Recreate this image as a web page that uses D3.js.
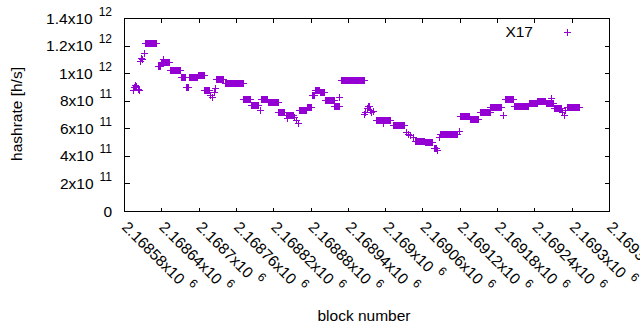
<!DOCTYPE html>
<html>
<head>
<meta charset="utf-8">
<script src="https://cdn.jsdelivr.net/npm/d3@7"></script>
<style>
  body { margin: 0; background: #fff; }
  text { font-family: "Liberation Sans", Arial, sans-serif; fill: #000; }
</style>
</head>
<body>
<script>
// runs of blocks sharing one hashrate value (x 1e11 h/s)
var runStart = [2168594, 2168596, 2168598, 2168600, 2168602, 2168604,
  2168605, 2168607, 2168609, 2168612, 2168614, 2168634, 2168640, 2168643,
  2168654, 2168671, 2168679, 2168685, 2168699, 2168709, 2168718, 2168721,
  2168724, 2168727, 2168728, 2168742, 2168772, 2168784, 2168798, 2168800,
  2168812, 2168828, 2168840, 2168842, 2168854, 2168857, 2168860, 2168862,
  2168874, 2168882, 2168887, 2168895, 2168904, 2168918, 2168925, 2168929,
  2168966, 2168968, 2168970, 2168972, 2168974, 2168976, 2168978, 2168980,
  2168985, 2168997, 2169012, 2169033, 2169036, 2169040, 2169044, 2169048,
  2169064, 2169078, 2169084, 2169086, 2169088, 2169118, 2169120, 2169136,
  2169152, 2169169, 2169190, 2169192, 2169207, 2169232, 2169245, 2169258,
  2169266, 2169272, 2169284, 2169287, 2169290, 2169292];
var runEnd = [2168594, 2168596, 2168598, 2168600, 2168602, 2168604,
  2168605, 2168607, 2168609, 2168612, 2168632, 2168638, 2168652, 2168643,
  2168670, 2168678, 2168683, 2168698, 2168708, 2168717, 2168718, 2168721,
  2168724, 2168727, 2168740, 2168771, 2168782, 2168796, 2168798, 2168810,
  2168827, 2168838, 2168852, 2168842, 2168854, 2168857, 2168860, 2168873,
  2168881, 2168886, 2168894, 2168902, 2168917, 2168926, 2168925, 2168966,
  2168966, 2168968, 2168970, 2168972, 2168974, 2168976, 2168978, 2168980,
  2169008, 2168997, 2169030, 2169033, 2169036, 2169040, 2169044, 2169062,
  2169076, 2169082, 2169084, 2169086, 2169116, 2169118, 2169135, 2169150,
  2169168, 2169186, 2169190, 2169206, 2169230, 2169244, 2169257, 2169270,
  2169266, 2169282, 2169284, 2169287, 2169290, 2169312];
var runValue = [8.8, 9.0, 9.15, 9.1, 8.85, 8.8,
  10.9, 11.1, 11.0, 11.45, 12.2, 10.5, 10.8, 11.0,
  10.25, 9.72, 9.0, 9.75, 9.9, 8.8, 8.45, 8.3,
  8.6, 8.9, 9.6, 9.3, 8.1, 7.7, 7.3, 8.15,
  7.93, 7.2, 7.0, 6.75, 6.8, 6.6, 6.4, 7.3,
  7.55, 8.4, 8.75, 8.6, 8.07, 7.65, 8.3, 9.5,
  7.05, 7.2, 7.5, 7.65, 7.6, 7.3, 7.2, 7.25,
  6.6, 6.4, 6.25, 5.75, 5.6, 5.5, 5.35, 5.1,
  5.0, 4.6, 4.4, 5.35, 5.56, 5.8, 6.9, 6.7,
  7.15, 7.55, 7.0, 8.15, 7.65, 7.85, 7.95, 7.8,
  8.2, 7.5, 7.2, 7.0, 7.3, 7.55];

var yTicks = [0, 2e11, 4e11, 6e11, 8e11, 1e12, 1.2e12, 1.4e12];
var yTickMant = ["0", "2", "4", "6", "8", "1", "1.2", "1.4"];
var yTickExp = ["", "11", "11", "11", "11", "12", "12", "12"];
var xTicks = [2168580, 2168640, 2168700, 2168760, 2168820, 2168880, 2168940,
  2169000, 2169060, 2169120, 2169180, 2169240, 2169300, 2169360];
var xTickMant = ["2.16858", "2.16864", "2.1687", "2.16876", "2.16882", "2.16888",
  "2.16894", "2.169", "2.16906", "2.16912", "2.16918", "2.16924", "2.1693", "2.16936"];
var seriesName = "X17";

var color = "#9400d3";
var plotL = 124, plotR = 609, plotT = 18, plotB = 211;

var svg = d3.select("body").append("svg")
  .attr("width", 640)
  .attr("height", 330);

var x = d3.scaleLinear().domain([2168580, 2169360]).range([plotL, plotR]);
var y = d3.scaleLinear().domain([0, 1.4e12]).range([plotB, plotT]);

// flatten runs into one point per block
var points = [];
runStart.forEach(function(s, i) {
  for (var b = s; b <= runEnd[i]; b++) points.push({ block: b, value: runValue[i] * 1e11 });
});

function plus(cx, cy) {
  var px = Math.round(cx), py = Math.round(cy);
  return "M" + (px - 3) + "," + (py + 0.5) + "H" + (px + 4) +
    "M" + (px + 0.5) + "," + (py - 3) + "V" + (py + 4);
}

// ticks (inward, mirrored) via d3 axes
function axisLines(gen, tx, ty) {
  var g = svg.append("g").attr("transform", "translate(" + tx + "," + ty + ")").call(gen);
  g.select(".domain").remove();
  g.selectAll("text").remove();
  g.selectAll("line").attr("stroke", "#000").attr("shape-rendering", "crispEdges");
  return g;
}
axisLines(d3.axisLeft(y).tickValues(yTicks).tickSize(-5), plotL + 0.5, 0);
axisLines(d3.axisRight(y).tickValues(yTicks).tickSize(-5), plotR + 0.5, 0);
axisLines(d3.axisBottom(x).tickValues(xTicks).tickSize(-4), 0, plotB + 0.5);
axisLines(d3.axisTop(x).tickValues(xTicks).tickSize(-4), 0, plotT + 0.5);

svg.append("rect")
  .attr("x", plotL + 0.5).attr("y", plotT + 0.5)
  .attr("width", plotR - plotL).attr("height", plotB - plotT)
  .attr("fill", "none").attr("stroke", "#000")
  .attr("shape-rendering", "crispEdges");

// y tick labels with superscript exponents
var yl = svg.append("g").selectAll("text")
  .data(yTicks)
  .enter().append("text")
  .attr("x", 112)
  .attr("y", function(d) { return y(d) + 5.5; })
  .attr("text-anchor", "end")
  .style("font-size", "15.5px");
yl.append("tspan").text(function(d, i) { return yTickMant[i] + (yTickExp[i] ? "x10" : ""); });
yl.append("tspan")
  .attr("dx", 6).attr("dy", -8)
  .style("font-size", "12px")
  .text(function(d, i) { return yTickExp[i]; });

// x tick labels rotated -45 (clockwise)
var xl = svg.append("g").selectAll("text")
  .data(xTicks)
  .enter().append("text")
  .attr("transform", function(d) { return "translate(" + (x(d) - 3) + ",228) rotate(45)"; })
  .style("font-size", "15.5px");
xl.append("tspan").text(function(d, i) { return xTickMant[i] + "x10"; });
xl.append("tspan")
  .attr("dx", 6).attr("dy", -8)
  .style("font-size", "12px")
  .text("6");

// axis titles
svg.append("text")
  .attr("transform", "translate(22,114) rotate(-90)")
  .attr("text-anchor", "middle")
  .style("font-size", "15.5px")
  .text("hashrate [h/s]");
svg.append("text")
  .attr("x", 364).attr("y", 321)
  .attr("text-anchor", "middle")
  .style("font-size", "15.5px")
  .text("block number");

// points
svg.append("g")
  .selectAll("path")
  .data(points)
  .enter().append("path")
  .attr("d", function(d) { return plus(x(d.block), y(d.value)); })
  .attr("stroke", color)
  .attr("stroke-width", 1)
  .attr("fill", "none")
  .attr("shape-rendering", "crispEdges");

// legend
svg.append("text")
  .attr("x", 533).attr("y", 37)
  .attr("text-anchor", "end")
  .style("font-size", "15.5px")
  .text(seriesName);
svg.append("path")
  .attr("d", plus(567, 32))
  .attr("stroke", color)
  .attr("fill", "none")
  .attr("shape-rendering", "crispEdges");
</script>
</body>
</html>
